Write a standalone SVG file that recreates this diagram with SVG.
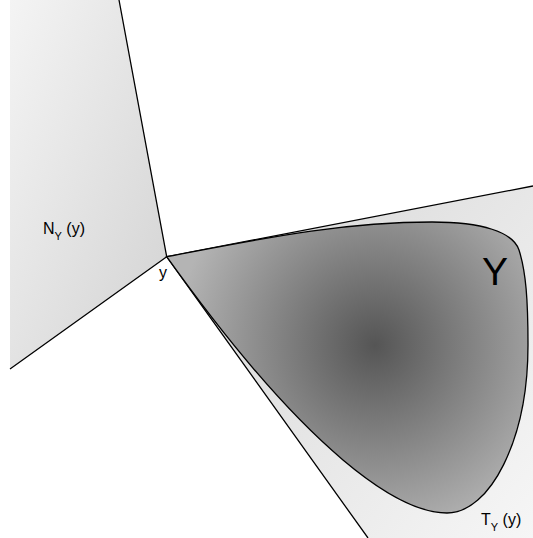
<svg xmlns="http://www.w3.org/2000/svg" width="533" height="538" viewBox="0 0 533 538">
<defs>
<linearGradient id="gN" x1="0" y1="0" x2="1" y2="1">
<stop offset="0" stop-color="#f4f4f4"/>
<stop offset="1" stop-color="#d2d2d2"/>
</linearGradient>
<linearGradient id="gT" gradientUnits="userSpaceOnUse" x1="200" y1="260" x2="533" y2="538">
<stop offset="0" stop-color="#d9d9d9"/>
<stop offset="1" stop-color="#f6f6f6"/>
</linearGradient>
<radialGradient id="gY" gradientUnits="userSpaceOnUse" cx="375" cy="345" r="200">
<stop offset="0" stop-color="#555555"/>
<stop offset="1" stop-color="#b4b4b4"/>
</radialGradient>
</defs>
<style>
.ln{fill:none;stroke:#000;stroke-width:1.3}
.sy{fill:url(#gY);stroke:#000;stroke-width:1.3}
.t{font-family:"Liberation Sans",Arial,sans-serif;fill:#000}
</style>
<g id="normal-cone">
<polygon points="10,0 119,0 166.7,256.7 10,369" fill="url(#gN)"/>
<polyline class="ln" points="119,0 166.7,256.7 10,369"/>
<text class="t" x="43" y="234" font-size="16">N<tspan font-size="11" dy="6">Y</tspan><tspan dy="-6"> (y)</tspan></text>
</g>
<g id="tangent-cone">
<polygon points="166.7,256.7 533,186 533,538 368,538" fill="url(#gT)"/>
<polyline class="ln" points="533,186 166.7,256.7 368,538"/>
<text class="t" x="481" y="525" font-size="16">T<tspan font-size="11" dy="6">Y</tspan><tspan dy="-6"> (y)</tspan></text>
</g>
<g id="set-Y">
<path class="sy" d="M166.7,256.7 C260,239 340,222 432,222 C482,222 513,232 519,250 C526,272 528,300 528,345 C528,440 490,513 447,513 C400,513 310,457 166.7,256.7 Z"/>
<text class="t" x="482" y="285" font-size="39">Y</text>
</g>
<g id="point-y">
<text class="t" x="159" y="278" font-size="16">y</text>
</g>
</svg>
